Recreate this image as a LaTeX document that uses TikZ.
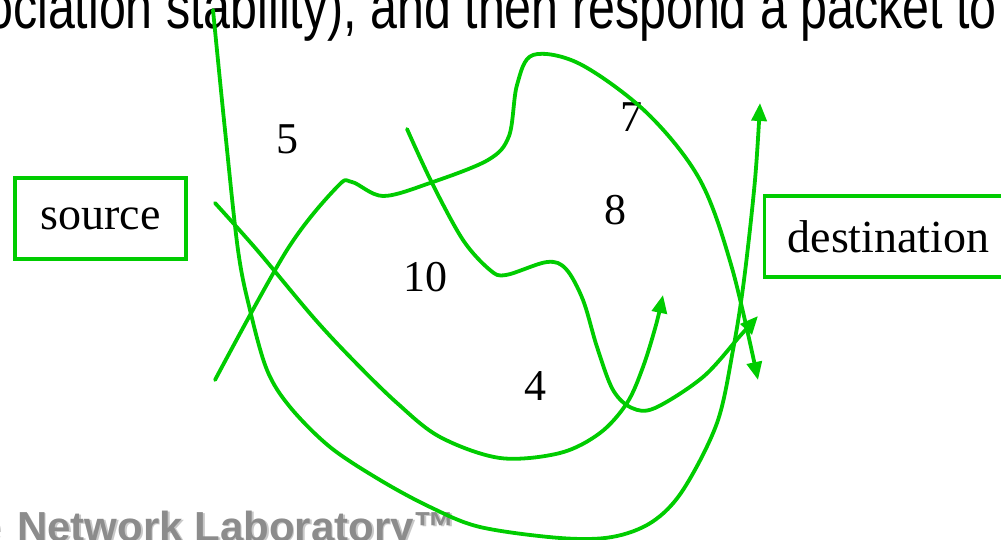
\documentclass[tikz,border=0pt]{standalone}
\usepackage{fontspec}
\setmainfont{Liberation Serif}
\newfontfamily\arialfont{Liberation Sans}
\usetikzlibrary{arrows.meta}
\definecolor{routegreen}{RGB}{0,204,0}
\definecolor{labgray}{RGB}{140,140,140}
\definecolor{shadowgray}{RGB}{200,200,200}
\tikzset{
  route/.style={draw=routegreen, line width=3.8pt, line cap=round, line join=round},
  routearrow/.style={route, -{Triangle[length=18pt,width=15pt]}},
  endbox/.style={draw=routegreen, line width=3.2pt, minimum height=81pt, inner sep=0pt, font=\fontsize{46}{46}\selectfont},
  weight/.style={font=\fontsize{44}{44}\selectfont, inner sep=0pt}
}
\begin{document}
\begin{tikzpicture}[x=1pt,y=-1pt]
\useasboundingbox (0,0) rectangle (1001,540);
% header text (cut at top)
\node[anchor=base west, inner sep=0pt, font=\arialfont\fontsize{62}{62}\selectfont] (header) at (-14,29)
  {\scalebox{0.78}[1]{ociation stability), and then respond a packet to}};
% footer text with shadow
\node[anchor=base west, inner sep=0pt, text=shadowgray, font=\arialfont\bfseries\fontsize{42}{42}\selectfont] (footershadow) at (-20.5,542.5)
  {e\hspace{4pt} Network Laboratory™};
\node[anchor=base west, inner sep=0pt, text=labgray, font=\arialfont\bfseries\fontsize{42}{42}\selectfont] (footer) at (-22,541)
  {e\hspace{4pt} Network Laboratory™};
% end boxes
\node[endbox, minimum width=171pt] (source) at (100.5,218.5) {\raisebox{-5pt}{source}};
\node[endbox, minimum width=250pt, anchor=west] (destination) at (763,236.5) {\hspace*{-2pt}\raisebox{-3pt}{destination}};
% weights
\node[weight] (w5) at (287,139) {5};
\node[weight] (w10) at (425,277) {10};
\node[weight] (w7) at (631,117) {7};
\node[weight] (w8) at (615,210) {8};
\node[weight] (w4) at (535,386) {4};
% route end points
\coordinate (aS) at (215,380);
\coordinate (aE) at (758,380);
\coordinate (bS) at (215,203);
\coordinate (bE) at (663,295);
\coordinate (cS) at (407,129);
\coordinate (cE) at (758,316);
\coordinate (dS) at (213,10);
\coordinate (dE) at (760,103);
% route A
\draw[routearrow] plot[smooth, tension=0.55] coordinates {(aS) (287,250) (337,187) (352,182) (383,196) (430,183) (488,160) (509,136) (517,85) (533,55) (580,64) (647,113) (700,180) (732,268) (aE)};
% route B
\draw[routearrow] plot[smooth, tension=0.55] coordinates {(bS) (257,250) (313,317) (353,360) (397,403) (440,437) (500,458) (560,453) (600,433) (627,403) (643,367) (656,325) (bE)};
% route C
\draw[routearrow] plot[smooth, tension=0.55] coordinates {(cS) (432,183) (463,240) (490,270) (506,275) (547,262) (566,269) (583,300) (597,347) (613,390) (632,408) (655,408) (703,377) (740,336) (cE)};
% route D
\draw[routearrow] plot[smooth, tension=0.55] coordinates {(dS) (225,130) (238,250) (250,310) (267,370) (290,407) (330,447) (380,480) (430,507) (480,527) (560,538) (612,537) (652,522) (683,490) (717,423) (733,350) (744,280) (755,180) (dE)};
\end{tikzpicture}
\end{document}
